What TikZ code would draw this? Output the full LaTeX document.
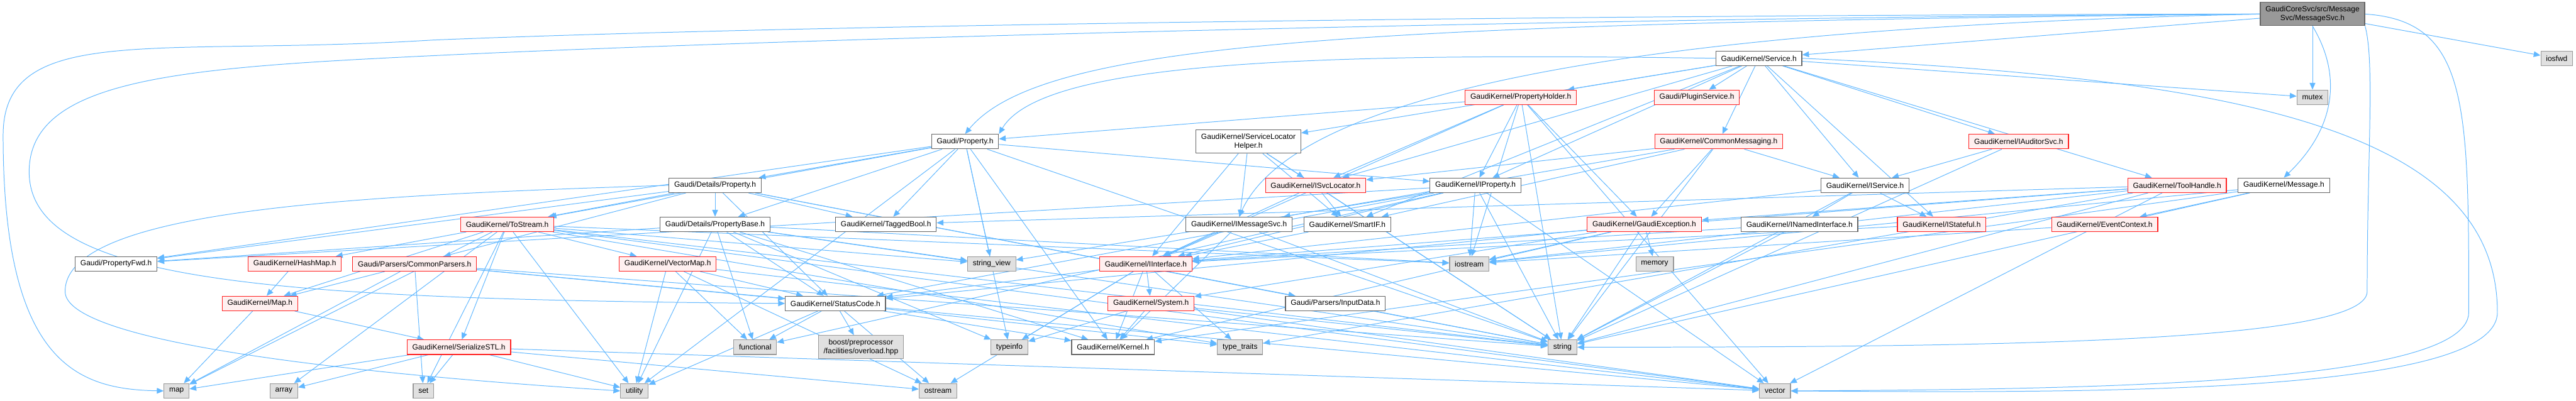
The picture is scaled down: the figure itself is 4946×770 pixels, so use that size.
\documentclass[tikz,border=0pt]{standalone}
\usepackage{fontspec}
\setmainfont{Liberation Sans}
\usepackage{tikz}
\usetikzlibrary{positioning,arrows.meta,backgrounds}
\definecolor{edgeblue}{HTML}{63B8FF}
\definecolor{truncred}{HTML}{FF2020}
\definecolor{truncfill}{HTML}{FFF0F0}
\definecolor{sysfill}{HTML}{E0E0E0}
\definecolor{sysdraw}{HTML}{999999}
\definecolor{hdrdraw}{HTML}{666666}
\tikzset{
  known/.style={rectangle, draw=hdrdraw, fill=white, line width=0.7pt,
    align=center, font=\fontsize{7.25}{8.6}\selectfont, minimum height=14pt, inner xsep=5pt, inner ysep=3.5pt},
  trunc/.style={known, draw=truncred, fill=truncfill},
  sysh/.style={known, draw=sysdraw, fill=sysfill},
  focus/.style={known, draw=hdrdraw, fill=sysdraw},
  dep/.style={-{Triangle[length=6.5pt,width=5.5pt]}, draw=edgeblue, line width=0.6pt},
}

\begin{document}
\begin{tikzpicture}[x=0.5pt, y=-0.5pt]
\useasboundingbox (0,0) rectangle (4946,770);
% ---- rank 0 ----
\node[focus] (msvc) at (4440,27) {GaudiCoreSvc/src/Message\\Svc/MessageSvc.h};
% ---- rank 1 ----
\node[known] (svc) at (3377,112) {GaudiKernel/Service.h};
\node[sysh] (iosfwd) at (4909,112) {iosfwd};
% ---- rank 2 ----
\node[trunc] (pholder) at (2920,187) {GaudiKernel/PropertyHolder.h};
\node[trunc] (plugin) at (3258,187) {Gaudi/PluginService.h};
\node[sysh] (mutex) at (4440,187) {mutex};
% ---- rank 3 ----
\node[known] (prop) at (1853,272) {Gaudi/Property.h};
\node[known] (slhelper) at (2397,272) {GaudiKernel/ServiceLocator\\Helper.h};
\node[trunc] (cmsg) at (3300,272) {GaudiKernel/CommonMessaging.h};
\node[trunc] (iaudsvc) at (3876,272) {GaudiKernel/IAuditorSvc.h};
% ---- rank 4 ----
\node[known] (dprop) at (1373,356) {Gaudi/Details/Property.h};
\node[trunc] (isvcloc) at (2526,356) {GaudiKernel/ISvcLocator.h};
\node[known] (iprop) at (2833,356) {GaudiKernel/IProperty.h};
\node[known] (isvc) at (3581,356) {GaudiKernel/IService.h};
\node[trunc] (thandle) at (4180,356) {GaudiKernel/ToolHandle.h};
\node[known] (msg) at (4385,356) {GaudiKernel/Message.h};
% ---- rank 5 ----
\node[trunc] (tostr) at (974,431) {GaudiKernel/ToStream.h};
\node[known] (pbase) at (1373,431) {Gaudi/Details/PropertyBase.h};
\node[known] (tbool) at (1701,431) {GaudiKernel/TaggedBool.h};
\node[known] (imsgsvc) at (2379,431) {GaudiKernel/IMessageSvc.h};
\node[known] (smartif) at (2587,431) {GaudiKernel/SmartIF.h};
\node[trunc] (gexc) at (3157,431) {GaudiKernel/GaudiException.h};
\node[known] (inamed) at (3455,431) {GaudiKernel/INamedInterface.h};
\node[trunc] (istate) at (3728,431) {GaudiKernel/IStateful.h};
\node[trunc] (evctx) at (4041,431) {GaudiKernel/EventContext.h};
% ---- rank 6 ----
\node[known] (pfwd) at (223,507) {Gaudi/PropertyFwd.h};
\node[trunc] (hmap) at (566,507) {GaudiKernel/HashMap.h};
\node[trunc] (cparse) at (796,507) {Gaudi/Parsers/CommonParsers.h};
\node[trunc] (vmap) at (1282,507) {GaudiKernel/VectorMap.h};
\node[sysh] (strview) at (1904,507) {string\_view};
\node[trunc] (iif) at (2200,507) {GaudiKernel/IInterface.h};
\node[sysh] (iostr) at (2821,507) {iostream};
\node[sysh] (memory) at (3177,507) {memory};
% ---- rank 7 ----
\node[trunc] (gmap) at (499,583) {GaudiKernel/Map.h};
\node[known] (sc) at (1604,583) {GaudiKernel/StatusCode.h};
\node[trunc] (sys) at (2210,583) {GaudiKernel/System.h};
\node[known] (indata) at (2564,583) {Gaudi/Parsers/InputData.h};
% ---- rank 8 ----
\node[trunc] (sstl) at (881,667) {GaudiKernel/SerializeSTL.h};
\node[sysh] (functional) at (1450,667) {functional};
\node[sysh] (boostpp) at (1653,667) {boost/preprocessor\\/facilities/overload.hpp};
\node[sysh] (typeinfo) at (1938,667) {typeinfo};
\node[known] (kernel) at (2137,667) {GaudiKernel/Kernel.h};
\node[sysh] (ttraits) at (2381,667) {type\_traits};
\node[sysh] (string) at (3000,667) {string};
% ---- rank 9 ----
\node[sysh] (map) at (339,751) {map};
\node[sysh] (array) at (545,751) {array};
\node[sysh] (set) at (813,751) {set};
\node[sysh] (utility) at (1218,751) {utility};
\node[sysh] (ostream) at (1801,751) {ostream};
\node[sysh] (vector) at (3408,751) {vector};
% ---- bends of the long edges ----
\coordinate (wmap1) at (830,77);   \coordinate (wmap2) at (6,260);
\coordinate (wsc1) at (830,107);   \coordinate (wsc2) at (56,330);
\coordinate (wut1) at (125,560);
\coordinate (wstr1) at (4545,560); \coordinate (wvec1) at (4740,600);
\coordinate (wvec2) at (4795,600);
\begin{scope}[on background layer]
% ---- MessageSvc.h ----
\draw[dep] (msvc.west) .. controls (3200,28) and (1600,45) .. (wmap1) .. controls (300,110) and (6,40) .. (wmap2) .. controls (6,700) and (150,748) .. (map.west);
\draw[dep] (msvc.west) .. controls (3200,32) and (1600,70) .. (wsc1) .. controls (350,130) and (56,150) .. (wsc2) .. controls (56,540) and (500,575) .. (sc.west);
\draw[dep] (msvc.west) .. controls (2600,45) and (2000,80) .. (prop.north);
\draw[dep] (msvc.west) .. controls (3300,50) and (2500,150) .. (imsgsvc.north);
\draw[dep] (msvc)--(svc); \draw[dep] (msvc)--(mutex); \draw[dep] (msvc)--(iosfwd);
\draw[dep] (msvc.south) .. controls (4500,150) and (4480,250) .. (msg.north);
\draw[dep] (msvc.south east) .. controls (4560,120) and (4545,300) .. (wstr1) .. controls (4545,660) and (3800,667) .. (string.east);
\draw[dep] (msvc.east) .. controls (4740,40) and (4740,200) .. (wvec1) .. controls (4740,740) and (4000,748) .. (vector.east);
% ---- Service.h ----
\draw[dep] (svc.west) .. controls (2500,100) and (2000,120) .. (prop.north east);
\draw[dep] (svc)--(plugin); \draw[dep] (svc)--(pholder); \draw[dep] (svc)--(cmsg);
\draw[dep] (svc)--(iaudsvc); \draw[dep] (svc)--(iprop); \draw[dep] (svc)--(isvc);
\draw[dep] (svc)--(istate); \draw[dep] (svc)--(isvcloc); \draw[dep] (svc)--(slhelper);
\draw[dep] (svc)--(smartif); \draw[dep] (svc)--(thandle); \draw[dep] (svc)--(mutex);
\draw[dep] (svc.east) .. controls (4300,150) and (4795,250) .. (wvec2) .. controls (4795,760) and (4000,755) .. (vector.east);
% ---- PropertyHolder.h ----
\draw[dep] (pholder)--(prop); \draw[dep] (pholder)--(isvcloc); \draw[dep] (pholder)--(iprop);
\draw[dep] (pholder)--(iif); \draw[dep] (pholder)--(gexc); \draw[dep] (pholder)--(string);
\draw[dep] (pholder)--(vector); \draw[dep] (pholder)--(iostr);
% ---- Property.h ----
\draw[dep] (prop)--(dprop); \draw[dep] (prop)--(pbase); \draw[dep] (prop)--(pfwd);
\draw[dep] (prop)--(iprop); \draw[dep] (prop)--(kernel); \draw[dep] (prop)--(tbool);
\draw[dep] (prop)--(tostr); \draw[dep] (prop)--(string); \draw[dep] (prop)--(strview);
\draw[dep] (prop)--(typeinfo); \draw[dep] (prop)--(utility);
% ---- ServiceLocatorHelper.h, CommonMessaging.h, IAuditorSvc.h ----
\draw[dep] (slhelper)--(isvcloc); \draw[dep] (slhelper)--(imsgsvc); \draw[dep] (slhelper)--(iif);
\draw[dep] (slhelper)--(smartif); \draw[dep] (slhelper)--(string);
\draw[dep] (cmsg)--(isvcloc); \draw[dep] (cmsg)--(imsgsvc); \draw[dep] (cmsg)--(isvc);
\draw[dep] (cmsg)--(smartif); \draw[dep] (cmsg)--(gexc); \draw[dep] (cmsg)--(string);
\draw[dep] (iaudsvc)--(isvc); \draw[dep] (iaudsvc)--(string);
% ---- Details/Property.h ----
\draw[dep] (dprop)--(pbase); \draw[dep] (dprop)--(pfwd); \draw[dep] (dprop)--(tostr);
\draw[dep] (dprop)--(cparse); \draw[dep] (dprop)--(sc); \draw[dep] (dprop)--(tbool);
\draw[dep] (dprop)--(indata); \draw[dep] (dprop)--(string);
\draw[dep] (dprop.west) .. controls (700,375) and (125,400) .. (wut1) .. controls (125,660) and (700,720) .. (utility.west);
% ---- rank 4 interfaces ----
\draw[dep] (isvcloc)--(iif); \draw[dep] (isvcloc)--(smartif); \draw[dep] (isvcloc)--(string);
\draw[dep] (iprop)--(iif); \draw[dep] (iprop)--(pfwd); \draw[dep] (iprop)--(sc);
\draw[dep] (iprop)--(string); \draw[dep] (iprop)--(strview); \draw[dep] (iprop)--(iostr);
\draw[dep] (iprop)--(vector); \draw[dep] (iprop)--(functional);
\draw[dep] (isvc)--(inamed); \draw[dep] (isvc)--(istate); \draw[dep] (isvc)--(iif); \draw[dep] (isvc)--(string);
\draw[dep] (thandle)--(gexc); \draw[dep] (thandle)--(iif); \draw[dep] (thandle)--(tbool);
\draw[dep] (thandle)--(iostr); \draw[dep] (thandle)--(string); \draw[dep] (thandle)--(vector);
\draw[dep] (thandle)--(ttraits);
\draw[dep] (msg)--(evctx); \draw[dep] (msg)--(kernel); \draw[dep] (msg)--(iostr); \draw[dep] (msg)--(string);
% ---- ToStream.h ----
\draw[dep] (tostr)--(hmap); \draw[dep] (tostr)--(gmap); \draw[dep] (tostr)--(sstl);
\draw[dep] (tostr)--(vmap); \draw[dep] (tostr)--(array); \draw[dep] (tostr)--(iostr);
\draw[dep] (tostr)--(map); \draw[dep] (tostr)--(set); \draw[dep] (tostr)--(string);
\draw[dep] (tostr)--(strview); \draw[dep] (tostr)--(ttraits); \draw[dep] (tostr)--(utility);
\draw[dep] (tostr)--(vector);
% ---- PropertyBase.h ----
\draw[dep] (pbase)--(pfwd); \draw[dep] (pbase)--(kernel); \draw[dep] (pbase)--(sc);
\draw[dep] (pbase)--(functional); \draw[dep] (pbase)--(iostr); \draw[dep] (pbase)--(string);
\draw[dep] (pbase)--(strview); \draw[dep] (pbase)--(typeinfo); \draw[dep] (pbase)--(utility);
% ---- rank 5 others ----
\draw[dep] (imsgsvc)--(iif); \draw[dep] (imsgsvc)--(kernel); \draw[dep] (imsgsvc)--(string);
\draw[dep] (smartif)--(iif);
\draw[dep] (gexc)--(memory); \draw[dep] (gexc)--(string); \draw[dep] (gexc)--(iostr);
\draw[dep] (gexc)--(sc); \draw[dep] (gexc)--(sys); \draw[dep] (gexc)--(kernel);
\draw[dep] (inamed)--(iif); \draw[dep] (inamed)--(string);
\draw[dep] (istate)--(iif); \draw[dep] (evctx)--(iostr);
% ---- rank 6 and below ----
\draw[dep] (hmap)--(gmap);
\draw[dep] (cparse)--(gmap); \draw[dep] (cparse)--(map); \draw[dep] (cparse)--(set);
\draw[dep] (cparse)--(sc); \draw[dep] (cparse)--(string); \draw[dep] (cparse)--(vector);
\draw[dep] (vmap)--(sc); \draw[dep] (vmap)--(functional); \draw[dep] (vmap)--(utility);
\draw[dep] (vmap)--(ostream); \draw[dep] (vmap)--(vector);
\draw[dep] (iif)--(kernel); \draw[dep] (iif)--(sc); \draw[dep] (iif)--(sys);
\draw[dep] (iif)--(ostream); \draw[dep] (iif)--(ttraits); \draw[dep] (iif)--(typeinfo);
\draw[dep] (sc)--(boostpp); \draw[dep] (sc)--(functional); \draw[dep] (sc)--(kernel);
\draw[dep] (sc)--(ostream); \draw[dep] (sc)--(ttraits); \draw[dep] (sc)--(utility);
\draw[dep] (sys)--(kernel); \draw[dep] (sys)--(typeinfo); \draw[dep] (sys)--(string); \draw[dep] (sys)--(vector);
\draw[dep] (indata)--(string);
\draw[dep] (gmap)--(map); \draw[dep] (gmap)--(sstl);
\draw[dep] (sstl)--(map); \draw[dep] (sstl)--(array); \draw[dep] (sstl)--(set);
\draw[dep] (sstl)--(utility); \draw[dep] (sstl)--(ostream); \draw[dep] (sstl)--(vector);
\end{scope}
\end{tikzpicture}
\end{document}
